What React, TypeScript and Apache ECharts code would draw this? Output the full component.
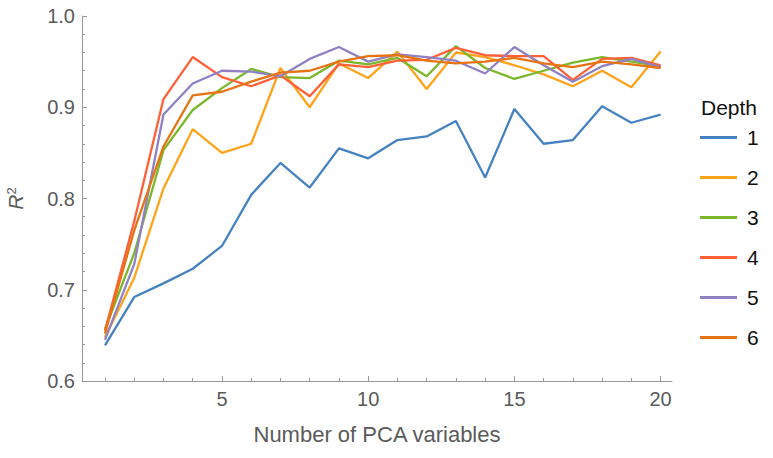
import React, { useEffect, useRef } from "react";
import * as echarts from "echarts";

const xValues = [1, 2, 3, 4, 5, 6, 7, 8, 9, 10, 11, 12, 13, 14, 15, 16, 17, 18, 19, 20];
const depthNames = ["1", "2", "3", "4", "5", "6"];
const depth1 = [0.639, 0.692, 0.707, 0.723, 0.748, 0.804, 0.839, 0.812, 0.855, 0.844, 0.864, 0.868, 0.885, 0.823, 0.898, 0.86, 0.864, 0.901, 0.883, 0.892];
const depth2 = [0.648, 0.713, 0.811, 0.876, 0.85, 0.86, 0.943, 0.9, 0.948, 0.932, 0.961, 0.92, 0.96, 0.955, 0.946, 0.936, 0.923, 0.94, 0.922, 0.961];
const depth3 = [0.657, 0.74, 0.853, 0.897, 0.921, 0.942, 0.933, 0.932, 0.951, 0.947, 0.954, 0.934, 0.967, 0.943, 0.931, 0.94, 0.949, 0.955, 0.95, 0.945];
const depth4 = [0.655, 0.775, 0.909, 0.955, 0.933, 0.923, 0.935, 0.912, 0.947, 0.944, 0.951, 0.952, 0.965, 0.957, 0.956, 0.956, 0.93, 0.953, 0.954, 0.946];
const depth5 = [0.645, 0.728, 0.892, 0.926, 0.94, 0.939, 0.934, 0.953, 0.966, 0.95, 0.958, 0.955, 0.951, 0.937, 0.966, 0.946, 0.928, 0.945, 0.953, 0.944];
const depth6 = [0.652, 0.765, 0.857, 0.913, 0.917, 0.928, 0.938, 0.94, 0.95, 0.956, 0.957, 0.951, 0.948, 0.95, 0.954, 0.948, 0.944, 0.95, 0.947, 0.943];
const seriesValues = [depth1, depth2, depth3, depth4, depth5, depth6];
const colors = ["#4682C0", "#FFA31A", "#7AB72A", "#FF6038", "#9080C4", "#E67314"];
const xMajorTicks = [5, 10, 15, 20];
const xMinorTicks = [1, 2, 3, 4, 6, 7, 8, 9, 11, 12, 13, 14, 16, 17, 18, 19];

const FONT = 'Arial, "Liberation Sans", sans-serif';
const AXIS_COLOR = "#999999";
const TEXT_COLOR = "#5a5a5a";

export default function App() {
  const ref = useRef<HTMLDivElement>(null);
  useEffect(() => {
    if (!ref.current) return;
    const chart = echarts.init(ref.current, null, { renderer: "svg" });
    const xMin = 0.214;
    const xMax = 20.39;
    chart.setOption({
      animation: false,
      textStyle: { fontFamily: FONT },
      title: {
        text: "Depth",
        left: 701,
        top: 97,
        padding: 0,
        textStyle: { fontFamily: FONT, fontSize: 21, fontWeight: "normal", color: "#111" },
      },
      legend: {
        orient: "vertical",
        left: 700,
        top: 127,
        padding: 0,
        itemWidth: 37,
        itemHeight: 3,
        itemGap: 19,
        icon: "rect",
        data: depthNames,
        textStyle: { fontFamily: FONT, fontSize: 21, color: "#111", padding: [0, 0, 0, 5] },
      },
      grid: { left: 82, right: 101, top: 16, bottom: 77, containLabel: false, outerBoundsMode: "none" },
      xAxis: [
        {
          type: "value",
          min: xMin,
          max: xMax,
          position: "bottom",
          name: "Number of PCA variables",
          nameLocation: "middle",
          nameGap: 42,
          nameTextStyle: { fontFamily: FONT, fontSize: 22, color: TEXT_COLOR },
          axisLine: { show: true, lineStyle: { color: AXIS_COLOR, width: 1 } },
          axisTick: { show: true, inside: true, length: 3, customValues: xMinorTicks, lineStyle: { color: AXIS_COLOR } },
          axisLabel: { show: true, customValues: xMajorTicks, margin: 8, fontFamily: FONT, fontSize: 20, color: TEXT_COLOR },
          splitLine: { show: false },
        },
        {
          type: "value",
          min: xMin,
          max: xMax,
          position: "bottom",
          axisLine: { show: false },
          axisTick: { show: true, inside: true, length: 5, customValues: xMajorTicks, lineStyle: { color: AXIS_COLOR } },
          axisLabel: { show: false },
          splitLine: { show: false },
        },
      ],
      yAxis: {
        type: "value",
        min: 0.6,
        max: 1.0,
        interval: 0.1,
        name: "{r|R}{s|2}",
        nameLocation: "middle",
        nameRotate: 90,
        nameGap: 56,
        nameTextStyle: {
          rich: {
            r: { fontFamily: FONT, fontStyle: "italic", fontSize: 21, color: TEXT_COLOR, lineHeight: 21 },
            s: { fontFamily: FONT, fontSize: 13, color: TEXT_COLOR, lineHeight: 11, verticalAlign: "top" },
          },
        },
        axisLine: { show: true, lineStyle: { color: AXIS_COLOR, width: 1 } },
        axisTick: { show: true, inside: true, length: 5, lineStyle: { color: AXIS_COLOR } },
        minorTick: { show: true, splitNumber: 5, length: 3, lineStyle: { color: AXIS_COLOR } },
        axisLabel: {
          margin: 7,
          fontFamily: FONT,
          fontSize: 20,
          color: TEXT_COLOR,
          formatter: (v: number) => v.toFixed(1),
        },
        splitLine: { show: false },
        minorSplitLine: { show: false },
      },
      series: seriesValues.map((vals, i) => ({
        name: depthNames[i],
        type: "line",
        xAxisIndex: 0,
        data: xValues.map((x, j) => [x, vals[j]]),
        showSymbol: false,
        symbol: "none",
        color: colors[i],
        lineStyle: { width: 2.3, color: colors[i] },
        emphasis: { disabled: true },
      })),
    });
    return () => chart.dispose();
  }, []);
  return <div ref={ref} style={{ width: 773, height: 458, position: "absolute", left: 0, top: 0 }} />;
}
